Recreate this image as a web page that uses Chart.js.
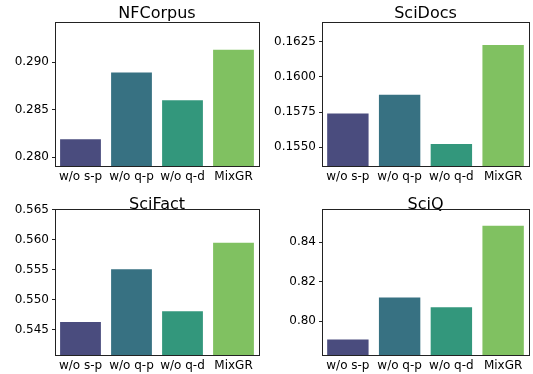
<!DOCTYPE html>
<html>
<head>
<meta charset="utf-8">
<script src="https://cdn.jsdelivr.net/npm/chart.js@4.4.1/dist/chart.umd.min.js"></script>
<style>
  body{margin:0;background:#fff;}
  #wrap{position:relative;width:533px;height:374px;}
  canvas{position:absolute;left:0;top:0;}
</style>
</head>
<body>
<div id="wrap">
  <canvas id="nf" width="533" height="374"></canvas>
  <canvas id="docs" width="533" height="374"></canvas>
  <canvas id="fact" width="533" height="374"></canvas>
  <canvas id="sciq" width="533" height="374"></canvas>
</div>
<script>
// data
const categories = ["w/o s-p", "w/o q-p", "w/o q-d", "MixGR"];

const nfcorpusValues = [0.2819, 0.2889, 0.2860, 0.2913];
const scidocsValues  = [0.15741, 0.15873, 0.15523, 0.16227];
const scifactValues  = [0.5463, 0.5551, 0.5481, 0.5595];
const sciqValues     = [0.7907, 0.8119, 0.8070, 0.8483];

const nfcorpusTicks = ["0.280", "0.285", "0.290"];
const scidocsTicks  = ["0.1550", "0.1575", "0.1600", "0.1625"];
const scifactTicks  = ["0.545", "0.550", "0.555", "0.560", "0.565"];
const sciqTicks     = ["0.80", "0.82", "0.84"];

const barColors = ["#4a4c7e", "#377182", "#33977c", "#80c161"];

// full box round each axes, like matplotlib spines
const framePlugin = {
    id: "frame",
    afterDatasetsDraw(chart){
        const a = chart.chartArea;
        const ctx = chart.ctx;
        ctx.save();
        ctx.strokeStyle = "#222";
        ctx.lineWidth = 1;
        ctx.strokeRect(Math.round(a.left) + 0.5, Math.round(a.top) + 0.5,
            Math.round(a.right - a.left), Math.round(a.bottom - a.top));
        ctx.restore();
    }
};

class BarPanel{
    constructor(canvasId, title, values, tickLabels, box){
        this.canvasId = canvasId;
        this.title = title;
        this.values = values;
        this.tickLabels = tickLabels;
        this.box = box;
        this.chart = null;
    }

    render(){
        const ctx = document.getElementById(this.canvasId).getContext("2d");
        const b = this.box;
        const yWidth = 50, xHeight = 18, lh = 8;
        const titleTop = b.titleMid - lh / 2;
        const tickVals = this.tickLabels.map(Number);
        const decimals = this.tickLabels[0].split(".")[1].length;

        this.chart = new Chart(ctx, {
            type: "bar",
            data: {
                labels: categories,
                datasets: [{
                    data: this.values,
                    backgroundColor: barColors,
                    borderWidth: 0,
                    barPercentage: 0.8,
                    categoryPercentage: 1.0
                }]
            },
            options: {
                responsive: false,
                animation: false,
                events: [],
                layout: {
                    padding: {
                        left: b.l - yWidth,
                        right: 533 - b.r,
                        top: titleTop,
                        bottom: 374 - b.b - xHeight
                    }
                },
                plugins: {
                    legend: { display: false },
                    tooltip: { enabled: false },
                    title: {
                        display: true,
                        fullSize: false,
                        text: this.title,
                        color: "#000",
                        font: { family: "DejaVu Sans", size: 16, weight: "normal", lineHeight: 0.5 },
                        padding: { top: 0, bottom: Math.max(0, b.t - titleTop - lh) }
                    }
                },
                scales: {
                    x: {
                        offset: true,
                        grid: { display: false, drawTicks: false },
                        border: { display: false },
                        ticks: {
                            color: "#000",
                            font: { family: "DejaVu Sans", size: 12 },
                            padding: 4,
                            maxRotation: 0,
                            autoSkip: false
                        },
                        afterFit: (scale) => { scale.height = xHeight; }
                    },
                    y: {
                        min: Math.min(...this.values) * 0.99,
                        max: Math.max(...this.values) * 1.01,
                        grid: { drawOnChartArea: false, drawTicks: true, tickLength: 3, color: "#222" },
                        border: { display: false },
                        ticks: {
                            color: "#000",
                            font: { family: "DejaVu Sans", size: 12 },
                            padding: 3,
                            callback: (v) => Number(v).toFixed(decimals)
                        },
                        afterBuildTicks: (scale) => { scale.ticks = tickVals.map(v => ({ value: v })); },
                        afterFit: (scale) => { scale.width = yWidth; }
                    }
                }
            },
            plugins: [framePlugin]
        });
    }
}

document.addEventListener("DOMContentLoaded", () => {
    new BarPanel("nf", "NFCorpus", nfcorpusValues, nfcorpusTicks, { l: 55, r: 259, t: 22, b: 166, titleMid: 13.7 }).render();
    new BarPanel("docs", "SciDocs", scidocsValues, scidocsTicks, { l: 322, r: 529, t: 22, b: 166, titleMid: 13.7 }).render();
    new BarPanel("fact", "SciFact", scifactValues, scifactTicks, { l: 55, r: 259, t: 209, b: 355, titleMid: 204.7 }).render();
    new BarPanel("sciq", "SciQ", sciqValues, sciqTicks, { l: 322, r: 529, t: 209, b: 355, titleMid: 204.7 }).render();
});
</script>
</body>
</html>
